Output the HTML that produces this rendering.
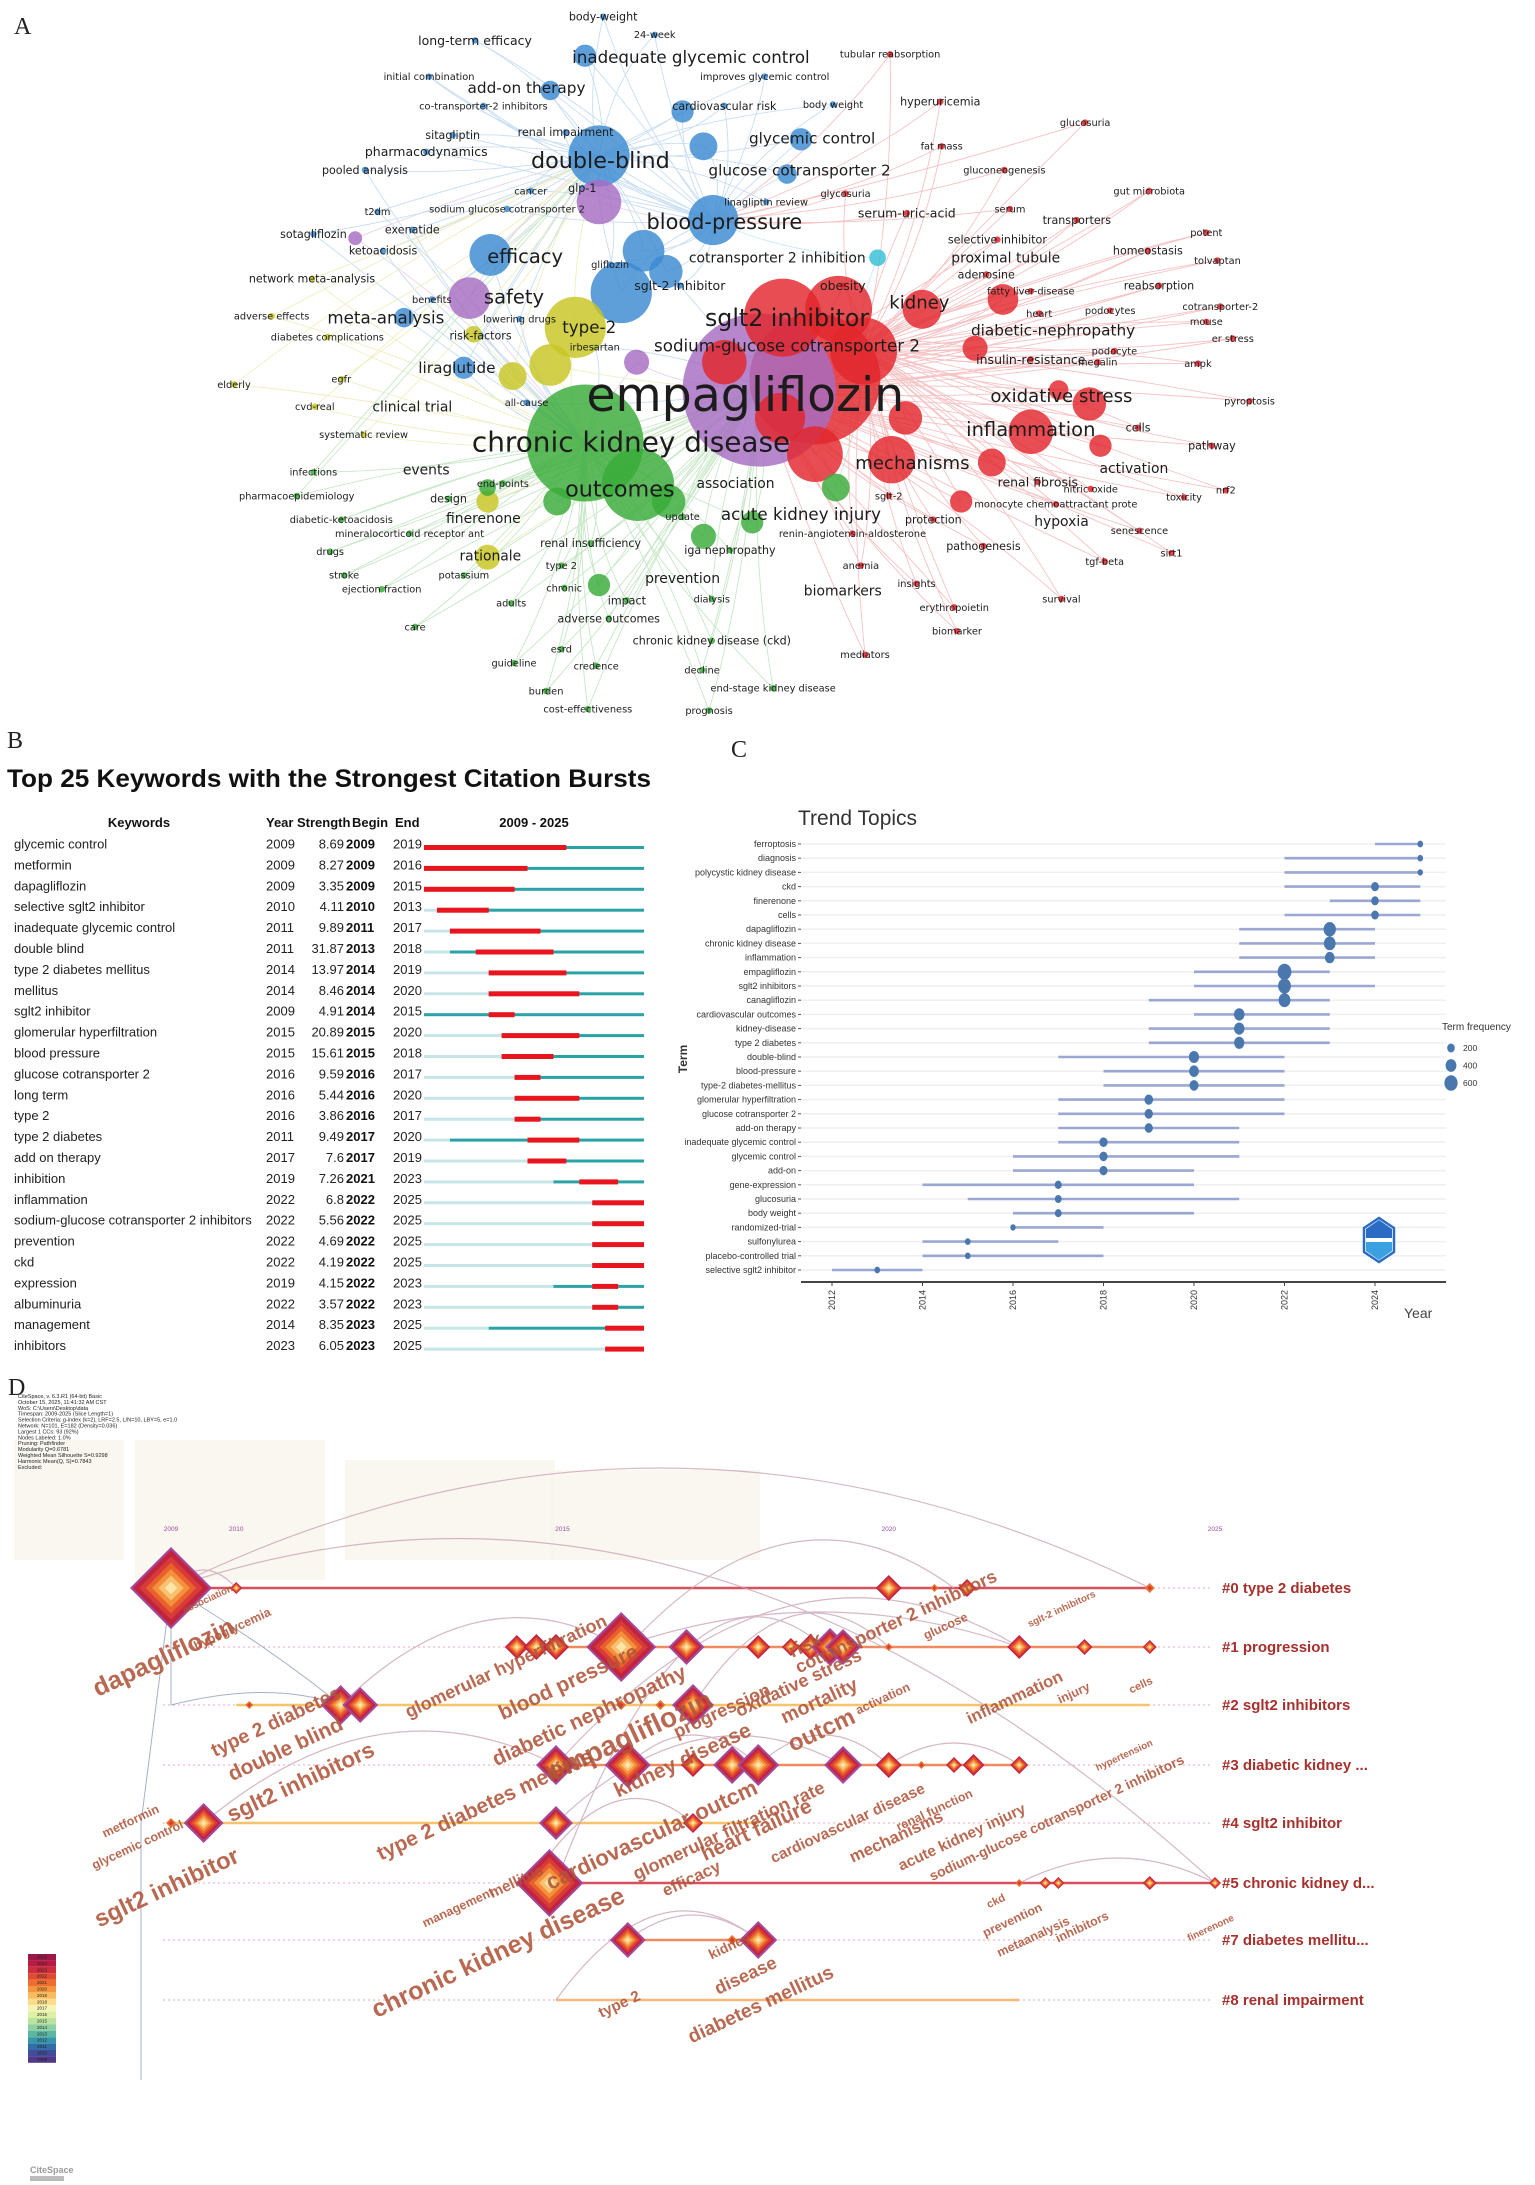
<!DOCTYPE html>
<html><head><meta charset="utf-8"><title>Keyword analysis figure</title>
<style>
html,body{margin:0;padding:0;background:#fff;}
svg{display:block;font-family:"Liberation Sans",Arial,sans-serif;}
</style></head>
<body>
<svg id="fig" xmlns="http://www.w3.org/2000/svg" width="1535" height="2185" viewBox="0 0 1535 2185">
<rect x="0" y="0" width="1535" height="2185" fill="#fff"/>
</svg>
<script>
const NS='http://www.w3.org/2000/svg';
const svg=document.getElementById('fig');
function mk(tag,attrs,parent){const e=document.createElementNS(NS,tag);for(const k in attrs)e.setAttribute(k,attrs[k]);(parent||svg).appendChild(e);return e;}
function txt(str,attrs,parent){const e=mk('text',attrs,parent);e.textContent=str;return e;}
const S=1.393;

/* ================= PANEL A : network ================= */
const aColors={r:'#e2262c',b:'#3a8ad2',g:'#38ab38',y:'#c8c622',p:'#a66cc2',c:'#35bfd6',o:'#f0913a'};
const aBigNodes=[
['r',585,272,47],['p',545,280,55],['g',420,318,42],['g',458,348,26],['r',562,228,28],['r',602,222,24],['r',620,252,24],['r',585,326,20],['r',640,330,17],['r',662,222,14],['r',740,310,16],['r',782,290,12],['r',712,332,10],['r',720,215,11],['r',560,300,18],['r',520,260,16],
['b',430,112,22],['b',512,158,18],['b',446,210,22],['b',462,180,15],['b',352,183,15],['b',505,105,10],['b',490,80,8],['b',478,195,12],['b',395,65,7],['b',420,40,8],['b',575,100,8],['b',565,125,7],['b',333,264,8],['b',290,228,7],
['p',337,214,15],['p',430,145,16],['p',457,260,9],['p',255,171,5],
['y',413,235,22],['y',395,262,15],['y',368,270,10],['y',340,240,6],['y',350,360,8],['y',350,400,9],
['g',480,360,12],['g',400,360,10],['g',505,385,9],['g',540,375,8],['g',430,420,8],['g',600,350,10],['g',350,350,6],
['r',650,300,12],['r',700,250,9],['r',690,360,8],['r',760,280,7],['r',790,320,8],['c',630,185,6]
];
const aLabels=[
['empagliflozin',535,283,34],['chronic kidney disease',453,317,20],['outcomes',445,351,16],['double-blind',431,115,16],['blood-pressure',520,159,15],['sglt2 inhibitor',565,228,17],['sodium-glucose cotransporter 2',565,248,12],['efficacy',377,184,14],['safety',369,213,14],['type-2',423,235,12],['meta-analysis',277,228,12],['liraglutide',328,264,11],['mechanisms',655,332,13],['inflammation',740,308,14],['oxidative stress',762,284,13],['kidney',660,217,13],['diabetic-nephropathy',756,237,11],['acute kidney injury',575,369,12],['inadequate glycemic control',496,41,12],['add-on therapy',378,63,11],['glycemic control',583,99,11],['glucose cotransporter 2',574,122,11],['cotransporter 2 inhibition',558,185,10],['sglt-2 inhibitor',488,205,9],['association',528,347,10],['finerenone',347,372,10],['rationale',352,399,10],['prevention',490,415,10],['biomarkers',605,424,10],['activation',814,336,10],['hypoxia',762,374,10],['renal fibrosis',745,346,9],['insulin-resistance',740,258,9],['proximal tubule',722,185,10],['serum-uric-acid',651,153,9],['clinical trial',296,292,10],['events',306,337,10],['long-term efficacy',341,29,9],['body-weight',433,12,8],['obesity',605,205,9],
['24-week',470,25,7],['tubular reabsorption',639,39,7],['initial combination',308,55,7],['improves glycemic control',549,55,7],['co-transporter-2 inhibitors',347,76,7],['cardiovascular risk',520,76,8],['body weight',598,75,7],['hyperuricemia',675,73,8],['glucosuria',779,88,7],['sitagliptin',325,97,8],['renal impairment',406,95,8],['fat mass',676,105,7],['pharmacodynamics',306,109,9],['gluconeogenesis',721,122,7],['pooled analysis',262,122,8],['linagliptin  review',550,145,7],['glycosuria',607,139,7],['gut microbiota',825,137,7],['cancer',381,137,7],['glp-1',418,135,8],['serum',725,150,7],['t2dm',271,152,7],['sodium glucose cotransporter 2',364,150,7],['transporters',773,158,8],['potent',866,167,7],['sotagliflozin',225,168,8],['exenatide',296,165,8],['selective inhibitor',716,172,8],['ketoacidosis',275,180,8],['homeostasis',824,180,8],['tolvaptan',874,187,7],['gliflozin',438,190,7],['network meta-analysis',224,200,8],['adenosine',708,197,8],['reabsorption',832,205,8],['benefits',310,215,7],['fatty liver-disease',740,209,7],['podocytes',797,223,7],['cotransporter-2',876,220,7],['adverse effects',195,227,7],['lowering drugs',373,229,7],['heart',746,225,7],['mouse',866,231,7],['diabetes complications',235,242,7],['risk-factors',345,241,8],['irbesartan',427,249,7],['podocyte',800,252,7],['er stress',885,243,7],['elderly',168,276,7],['egfr',245,272,7],['megalin',788,260,7],['ampk',860,261,7],['cvd-real',226,292,7],['all-cause',378,289,7],['pyroptosis',897,288,7],['systematic review',261,312,7],['pathway',870,320,8],['cells',817,307,8],['infections',225,339,7],['end-points',361,347,7],['nitric oxide',783,351,7],['nrf2',880,352,7],['toxicity',850,357,7],['pharmacoepidemiology',213,356,7],['design',322,358,8],['sglt-2',638,356,7],['update',490,371,7],['monocyte chemoattractant prote',758,362,7],['protection',670,373,8],['diabetic-ketoacidosis',245,373,7],['mineralocorticoid receptor ant',294,383,7],['renal insufficiency',424,390,8],['renin-angiotensin-aldosterone',612,383,7],['senescence',818,381,7],['drugs',237,396,7],['iga nephropathy',524,395,8],['pathogenesis',706,392,8],['type 2',403,406,7],['sirt1',841,397,7],['tgf-beta',793,403,7],['stroke',247,413,7],['potassium',333,413,7],['ejection fraction',274,423,7],['chronic',405,422,7],['dialysis',511,430,7],['anemia',618,406,7],['insights',658,419,7],['survival',762,430,7],['impact',450,431,8],['adults',367,433,7],['erythropoietin',685,436,7],['care',298,450,7],['adverse outcomes',437,444,8],['chronic kidney disease (ckd)',511,460,8],['biomarker',687,453,7],['esrd',403,466,7],['mediators',621,470,7],['guideline',369,476,7],['credence',428,478,7],['decline',504,481,7],['end-stage kidney disease',555,494,7],['burden',392,496,7],['cost-effectiveness',422,509,7],['prognosis',509,510,7]
];
const aHubs=[[545,278],[420,318],[430,112],[620,250],[512,158]];
function regionColor(x,y){ if(x>600)return 'r'; if(y>330)return 'g'; if(y<200)return 'b'; return x<300?'y':'b'; }
const gA=mk('g',{});


txt('A',{x:14,y:34,'font-family':'Liberation Serif,serif','font-size':24,fill:'#222'},gA);
const gEdges=mk('g',{opacity:0.28},gA);
const allPts=aBigNodes.map(n=>[n[1],n[2],n[0]]).concat(aLabels.filter(l=>l[3]<=9).map(l=>[l[1],l[2],regionColor(l[1],l[2])]));
allPts.forEach((p,i)=>{
  const d=aHubs.map(h=>Math.hypot(h[0]-p[0],h[1]-p[1]));
  const order=d.map((v,k)=>k).sort((a,b)=>d[a]-d[b]);
  [order[0],order[1]].forEach(k=>{
    const h=aHubs[k];
    const mx=(p[0]+h[0])/2+(i%2?12:-12),my=(p[1]+h[1])/2+(i%3?10:-10);
    mk('path',{d:`M${p[0]*S},${p[1]*S} Q${mx*S},${my*S} ${h[0]*S},${h[1]*S}`,fill:'none',stroke:aColors[p[2]],'stroke-width':0.9},gEdges);
  });
});
const gNodes=mk('g',{},gA);
aLabels.filter(l=>l[3]<=9).forEach(l=>{
  const c=mk('circle',{cx:l[1]*S,cy:l[2]*S,r:3.2,fill:aColors[regionColor(l[1],l[2])],opacity:0.85},gNodes);
  
  
});
aBigNodes.forEach(n=>{
  const c=mk('circle',{cx:n[1]*S,cy:n[2]*S,r:n[3]*S,fill:aColors[n[0]],opacity:0.82},gNodes);
  
  
});
const gLab=mk('g',{},gA);
aLabels.forEach(l=>{
  const t=txt(l[0],{x:l[1]*S,y:l[2]*S+l[3]*S*0.35,'font-size':(l[3]*S).toFixed(1),'text-anchor':'middle',fill:'#1c1c1c','font-family':'DejaVu Sans, Liberation Sans, sans-serif'},gLab);
  
  
});

/* ================= PANEL B : citation bursts ================= */
const bKeywords=['glycemic control','metformin','dapagliflozin','selective sglt2 inhibitor','inadequate glycemic control','double blind','type 2 diabetes mellitus','mellitus','sglt2 inhibitor','glomerular hyperfiltration','blood pressure','glucose cotransporter 2','long term','type 2','type 2 diabetes','add on therapy','inhibition','inflammation','sodium-glucose cotransporter 2 inhibitors','prevention','ckd','expression','albuminuria','management','inhibitors'];
const bYear=[2009,2009,2009,2010,2011,2011,2014,2014,2009,2015,2015,2016,2016,2016,2011,2017,2019,2022,2022,2022,2022,2019,2022,2014,2023];
const bStrength=['8.69','8.27','3.35','4.11','9.89','31.87','13.97','8.46','4.91','20.89','15.61','9.59','5.44','3.86','9.49','7.6','7.26','6.8','5.56','4.69','4.19','4.15','3.57','8.35','6.05'];
const bBegin=[2009,2009,2009,2010,2011,2013,2014,2014,2014,2015,2015,2016,2016,2016,2017,2017,2021,2022,2022,2022,2022,2022,2022,2023,2023];
const bEnd=[2019,2016,2015,2013,2017,2018,2019,2020,2015,2020,2018,2017,2020,2017,2020,2019,2023,2025,2025,2025,2025,2023,2023,2025,2025];
const gB=mk('g',{});


txt('B',{x:7,y:748,'font-family':'Liberation Serif,serif','font-size':24,fill:'#222'},gB);
const bt=txt('Top 25 Keywords with the Strongest Citation Bursts',{x:7,y:787,'font-size':25,'font-weight':'bold',fill:'#111',textLength:644,lengthAdjust:'spacingAndGlyphs'},gB);


const hdr={y:827,'font-size':13,'font-weight':'bold',fill:'#111'};
txt('Keywords',Object.assign({x:139,'text-anchor':'middle'},hdr),gB);
txt('Year',Object.assign({x:266},hdr),gB);
txt('Strength',Object.assign({x:297},hdr),gB);
txt('Begin',Object.assign({x:352},hdr),gB);
txt('End',Object.assign({x:395},hdr),gB);
txt('2009 - 2025',Object.assign({x:534,'text-anchor':'middle'},hdr),gB);
const bx0=424,bx1=644,bY0=2009,bYN=17;
function bX(y){return bx0+(y-bY0)*(bx1-bx0)/bYN;}
bKeywords.forEach((k,i)=>{
  const y=844+i*20.9;
  const row=mk('g',{},gB);
  
  
  txt(k,{x:14,y:y+4.5,'font-size':13,fill:'#222'},row);
  txt(String(bYear[i]),{x:266,y:y+4.5,'font-size':13,fill:'#222'},row);
  txt(bStrength[i],{x:344,y:y+4.5,'font-size':13,fill:'#222','text-anchor':'end'},row);
  txt(String(bBegin[i]),{x:346,y:y+4.5,'font-size':13,fill:'#111','font-weight':'bold'},row);
  txt(String(bEnd[i]),{x:393,y:y+4.5,'font-size':13,fill:'#222'},row);
  mk('rect',{x:bx0,y:y+2,width:bX(bYear[i])-bx0,height:3,fill:'#c5e5e7'},row);
  mk('rect',{x:bX(bYear[i]),y:y+2,width:bx1-bX(bYear[i]),height:3,fill:'#2aa3a6'},row);
  const r=mk('rect',{x:bX(bBegin[i]),y:y+1,width:bX(bEnd[i]+1)-bX(bBegin[i]),height:5,fill:'#e8141e'},row);
  
  
});

/* ================= PANEL C : trend topics ================= */
const cTerms=['ferroptosis','diagnosis','polycystic kidney disease','ckd','finerenone','cells','dapagliflozin','chronic kidney disease','inflammation','empagliflozin','sglt2 inhibitors','canagliflozin','cardiovascular outcomes','kidney-disease','type 2 diabetes','double-blind','blood-pressure','type-2 diabetes-mellitus','glomerular hyperfiltration','glucose cotransporter 2','add-on therapy','inadequate glycemic control','glycemic control','add-on','gene-expression','glucosuria','body weight','randomized-trial','sulfonylurea','placebo-controlled trial','selective sglt2 inhibitor'];
const cStart=[2024,2022,2022,2022,2023,2022,2021,2021,2021,2020,2020,2019,2020,2019,2019,2017,2018,2018,2017,2017,2017,2017,2016,2016,2014,2015,2016,2016,2014,2014,2012];
const cMedian=[2025,2025,2025,2024,2024,2024,2023,2023,2023,2022,2022,2022,2021,2021,2021,2020,2020,2020,2019,2019,2019,2018,2018,2018,2017,2017,2017,2016,2015,2015,2013];
const cEnd=[2025,2025,2025,2025,2025,2025,2024,2024,2024,2023,2024,2023,2023,2023,2023,2022,2022,2022,2022,2022,2021,2021,2021,2020,2020,2021,2020,2018,2017,2018,2014];
const cFreq=[110,110,100,210,200,200,520,470,320,650,560,480,380,370,360,360,330,280,260,240,230,230,230,220,170,160,160,100,110,110,110];
const cTicks=[2012,2014,2016,2018,2020,2022,2024];
const cLegend=[200,400,600];
const cx0=832,cx1=1375; // 2012 -> 2024
function cX(y){return cx0+(y-2012)*(cx1-cx0)/12;}
function cY(i){return 844+i*(1270-844)/(cTerms.length-1);}
function cR(f){return 0.318*Math.sqrt(f);}
const gC=mk('g',{});


txt('C',{x:731,y:757,'font-family':'Liberation Serif,serif','font-size':24,fill:'#222'},gC);
const ct=txt('Trend Topics',{x:798,y:825,'font-size':21,fill:'#333'},gC);


cTerms.forEach((t,i)=>{
  const y=cY(i);
  mk('line',{x1:801,x2:1446,y1:y,y2:y,stroke:'#efefef','stroke-width':1.5},gC);
  mk('line',{x1:798,x2:801,y1:y,y2:y,stroke:'#555','stroke-width':1},gC);
  const lb=txt(t,{x:796,y:y+3,'font-size':9,'text-anchor':'end',fill:'#333','font-family':'Liberation Sans Narrow, Liberation Sans, sans-serif'},gC);
  
  
  const seg=mk('line',{x1:cX(cStart[i]),x2:cX(cEnd[i]),y1:y,y2:y,stroke:'#9aa7d2','stroke-width':2.6},gC);
  
  
  const dot=mk('ellipse',{cx:cX(cMedian[i]),cy:y,rx:cR(cFreq[i])*0.85,ry:cR(cFreq[i]),fill:'#4a77ae'},gC);
  
  
});
mk('line',{x1:801,x2:1446,y1:1282,y2:1282,stroke:'#444','stroke-width':2},gC);
cTicks.forEach(v=>{
  mk('line',{x1:cX(v),x2:cX(v),y1:1282,y2:1286,stroke:'#444','stroke-width':1},gC);
  const tl=txt(String(v),{x:0,y:0,'font-size':9,fill:'#333','text-anchor':'end',transform:`translate(${cX(v)+3},${1290}) rotate(-90)`},gC);
  
  
});
const yt=txt('Term',{x:0,y:0,'font-size':12,'font-weight':'bold',fill:'#333','text-anchor':'middle',transform:'translate(687,1059) rotate(-90)'},gC);


const xt=txt('Year',{x:1404,y:1318,'font-size':14,fill:'#444'},gC);


const lg=mk('g',{},gC);


txt('Term frequency',{x:1442,y:1030,'font-size':10,fill:'#333','font-family':'Liberation Sans Narrow, Liberation Sans, sans-serif'},lg);
cLegend.forEach((v,i)=>{
  const y=1048+i*17.5;
  mk('ellipse',{cx:1451,cy:y,rx:cR(v)*0.85,ry:cR(v),fill:'#4a77ae'},lg);
  txt(String(v),{x:1463,y:y+3,'font-size':8.5,fill:'#333'},lg);
});
const logo=mk('g',{transform:'translate(1379,1240)'},gC);


mk('polygon',{points:'0,-22 15,-12 15,12 0,22 -15,12 -15,-12',fill:'#fff',stroke:'#2a6cc4','stroke-width':2.5},logo);
mk('polygon',{points:'0,-20 13,-11 13,-2 -13,-2 -13,-11',fill:'#2a6cc4'},logo);
mk('polygon',{points:'-13,2 13,2 13,11 0,20 -13,11',fill:'#3aa0e0'},logo);

/* ================= PANEL D : CiteSpace timeline ================= */
const dClusters=['#0 type 2 diabetes','#1 progression','#2 sglt2 inhibitors','#3 diabetic kidney ...','#4 sglt2 inhibitor','#5 chronic kidney d...','#7 diabetes mellitu...','#8 renal impairment'];
const dLineStart=[2009,2014.3,2010,2014.9,2009,2014.5,2016,2014.9];
const dLineEnd=[2024,2024,2024,2022,2018,2025,2018,2022];
const dLineColor=['#d8505e','#f08a60','#f5c46a','#f08a60','#f5c46a','#d8505e','#f08a60','#f5b87a'];
// nodes: [year, cluster index, half-size]
const dNodeYear=[2009,2010,2020,2020.7,2021.2,2024, 2014.3,2014.6,2014.9,2015.9,2016.9,2018,2018.5,2018.8,2019.1,2019.3,2020,2022,2023,2024, 2010.2,2011.6,2011.9,2015.9,2016.5,2017, 2014.9,2015.9,2016,2017,2017.6,2018,2019.3,2020,2020.5,2021,2021.3,2022, 2009,2009.5,2014.9,2017, 2014.5,2014.8,2022,2022.4,2022.6,2024,2025, 2016,2017.6,2018];
const dNodeCluster=[0,0,0,0,0,0, 1,1,1,1,1,1,1,1,1,1,1,1,1,1, 2,2,2,2,2,2, 3,3,3,3,3,3,3,3,3,3,3,3, 4,4,4,4, 5,5,5,5,5,5,5, 6,6,6];
const dNodeSize=[38,6,13,4,9,5, 12,13,13,32,15,12,9,13,16,15,4,12,8,7, 4,17,15,5,5,18, 17,5,20,12,16,18,16,13,4,8,11,9, 5,17,14,10, 6,31,4,6,6,7,6, 15,5,16];
const dYears=[2009,2010,2015,2020,2025];
const dLabels=[['dapagliflozin',120,1195,18],['hypoglycemia',168,1172,9],['association',150,1150,7],['type 2 diabetes',200,1240,14],['double blind',207,1260,15],['sglt2 inhibitors',218,1284,16],['metformin',95,1310,9],['glycemic control',100,1327,9],['sglt2 inhibitor',122,1360,17],['glomerular hyperfiltration',365,1200,13],['blood pressure',410,1212,15],['diabetic nephropathy',425,1236,15],['empagliflozin',455,1252,20],['progression',520,1232,13],['oxidative stress',575,1212,13],['risk',580,1185,14],['cotransporter 2 inhibitors',645,1168,13],['glucose',680,1170,9],['mortality',590,1225,14],['outcm',592,1247,17],['activation',635,1222,9],['inflammation',730,1222,12],['injury',772,1218,9],['cells',820,1212,8],['sglt-2 inhibitors',763,1157,7],['hypertension',808,1262,7],['type 2 diabetes mellitus',350,1300,15],['kidney disease',492,1268,15],['cardiovascular outcm',470,1322,16],['glomerular filtration rate',525,1318,13],['heart failure',545,1318,15],['cardiovascular disease',610,1312,11],['mechanisms',645,1322,12],['renal function',672,1302,9],['acute kidney injury',692,1322,11],['sodium-glucose cotransporter 2 inhibitors',760,1308,10],['efficacy',498,1352,12],['management',330,1372,9],['mellitus',372,1354,11],['chronic kidney disease',360,1407,18],['kidney',525,1400,10],['disease',537,1422,13],['diabetes mellitus',548,1443,14],['type 2',446,1442,11],['ckd',716,1367,8],['prevention',728,1381,9],['metaanalysis',743,1393,9],['inhibitors',778,1386,9],['finerenone',870,1386,7]];
const dArcs=[[2009,0,2024,0,120],[2009,0,2025,5,90],[2014.9,3,2022,1,70],[2016,1,2021,0,60],[2011.6,2,2015.9,1,40],[2014.9,5,2019,1,60],[2016,6,2018,6,25],[2014.9,7,2018,6,40],[2017,2,2020,1,45],[2015.9,1,2022,1,35],[2009.5,4,2014.9,3,45],[2018,3,2020,3,30],[2022,5,2025,5,25],[2009,0,2010,0,18],[2014.9,4,2019.3,3,40],[2016,3,2018,3,30],[2020,3,2022,3,22],[2014.5,5,2017,4,35]];
const dLaneY=[1588,1647,1705,1765,1823,1883,1940,2000];
function dX(y){return 171+(y-2009)*65.25;}
const gD=mk('g',{});


// faint background blocks
[[14,1440,110,120],[135,1440,190,140],[345,1460,210,100],[550,1470,210,90]].forEach(b=>mk('rect',{x:b[0],y:b[1],width:b[2],height:b[3],fill:'#f6f3ea',opacity:0.7},gD));
txt('D',{x:8,y:1395,'font-family':'Liberation Serif,serif','font-size':24,fill:'#222'},gD);
const infoLines=['CiteSpace, v. 6.3.R1 (64-bit) Basic','October 15, 2025, 11:41:32 AM CST','WoS: C:\\Users\\Desktop\\data','Timespan: 2009-2025 (Slice Length=1)','Selection Criteria: g-index (k=2), LRF=2.5, L/N=10, LBY=5, e=1.0','Network: N=101, E=182 (Density=0.036)','Largest 1 CCs: 93 (92%)','Nodes Labeled: 1.0%','Pruning: Pathfinder','Modularity Q=0.6781','Weighted Mean Silhouette S=0.9298','Harmonic Mean(Q, S)=0.7843','Excluded:'];
const info=mk('g',{},gD);


infoLines.forEach((l,i)=>txt(l,{x:18,y:1398+i*5.9,'font-size':5.5,fill:'#222'},info));
dYears.forEach(y=>{
  const t=txt(String(y),{x:dX(y),y:1531,'font-size':6.5,fill:'#9a4aa0','text-anchor':'middle'},gD);
  
  
});
dLaneY.forEach((y,i)=>{
  mk('line',{x1:163,x2:1212,y1:y,y2:y,stroke:'#e8a8b0','stroke-width':1,'stroke-dasharray':'2,3'},gD);
  const ln=mk('line',{x1:dX(dLineStart[i]),x2:dX(dLineEnd[i]),y1:y,y2:y,stroke:dLineColor[i],'stroke-width':2.5},gD);
  
  
  const cl=txt(dClusters[i],{x:1222,y:y+5,'font-size':15,'font-weight':'bold',fill:'#a8302c'},gD);
  
  
});
// vertical connectors from 2009
const vg=mk('g',{stroke:'#8090b0','stroke-width':1,opacity:0.7,fill:'none'},gD);
mk('path',{d:`M${dX(2009)},${dLaneY[0]} L${dX(2009)-30},${dLaneY[4]}`},vg);
mk('path',{d:`M${dX(2009)},${dLaneY[0]} L${dX(2009)},${dLaneY[2]}`},vg);
mk('path',{d:`M${dX(2009)},${dLaneY[0]} Q${dX(2010.5)},${dLaneY[1]} ${dX(2011.6)},${dLaneY[2]}`},vg);
mk('path',{d:`M${dX(2009)-30},${dLaneY[4]} L${dX(2009)-30},2080`},vg);
mk('path',{d:`M${dX(2009)},${dLaneY[2]} Q${dX(2010.5)},${dLaneY[2]-25} ${dX(2011.6)},${dLaneY[2]}`},vg);
const ag=mk('g',{fill:'none',stroke:'#c8a0b4','stroke-width':1.2,opacity:0.75},gD);


dArcs.forEach(a=>{
  const x1=dX(a[0]),y1=dLaneY[a[1]],x2=dX(a[2]),y2=dLaneY[a[3]];
  mk('path',{d:`M${x1},${y1} Q${(x1+x2)/2},${Math.min(y1,y2)-a[4]*2} ${x2},${y2}`},ag);
});
const dLayers=['#c0243e','#d83a3a','#e8602c','#f4903c','#f8c070','#fde6a8'];
function diamond(cx,cy,s,parent){
  const g=mk('g',{},parent);
  if(s>=14)mk('polygon',{points:`${cx},${cy-s-3} ${cx+s+3},${cy} ${cx},${cy+s+3} ${cx-s-3},${cy}`,fill:'#a4489a'},g);
  const n=s<6?2:dLayers.length;
  for(let i=0;i<n;i++){const k=s*(1-i/n);mk('polygon',{points:`${cx},${cy-k} ${cx+k},${cy} ${cx},${cy+k} ${cx-k},${cy}`,fill:s<6&&i==0?'#e8742c':dLayers[i]},g);}
  return g;
}
dNodeYear.forEach((y,i)=>{
  const d=diamond(dX(y),dLaneY[dNodeCluster[i]],dNodeSize[i],gD);
  
  
});
dLabels.forEach(l=>{
  const fs=l[3]*S;
  const t=txt(l[0],{x:0,y:0,'font-size':fs.toFixed(1),'font-weight':'bold',fill:'#b0553a',opacity:0.88,'text-anchor':'middle',transform:`translate(${l[1]*S},${l[2]*S}) rotate(-25)`},gD);
  
  
});
// color bar legend
const dCbYears=[2025,2024,2023,2022,2021,2020,2019,2018,2017,2016,2015,2014,2013,2012,2011,2010,2009];
const dCbColors=['#9c1848','#b81c44','#cc2c3c','#de4a32','#ec6e30','#f49640','#f8bc5c','#fbdc8c','#f6f4b4','#def0a4','#bce2a0','#8ed0a0','#5cb6a2','#3896aa','#326ea8','#424c98','#523888'];
const cb=mk('g',{},gD);


dCbYears.forEach((y,i)=>{
  mk('rect',{x:28,y:1954+i*6.4,width:28,height:6.4,fill:dCbColors[i]},cb);
  txt(String(y),{x:42,y:1958.5+i*6.4,'font-size':4.5,'text-anchor':'middle',fill:'#222'},cb);
});
const cs=txt('CiteSpace',{x:30,y:2173,'font-size':9,'font-weight':'bold',fill:'#999'},gD);


mk('rect',{x:30,y:2176,width:34,height:5,fill:'#bbb'},gD);
</script>
</body></html>
